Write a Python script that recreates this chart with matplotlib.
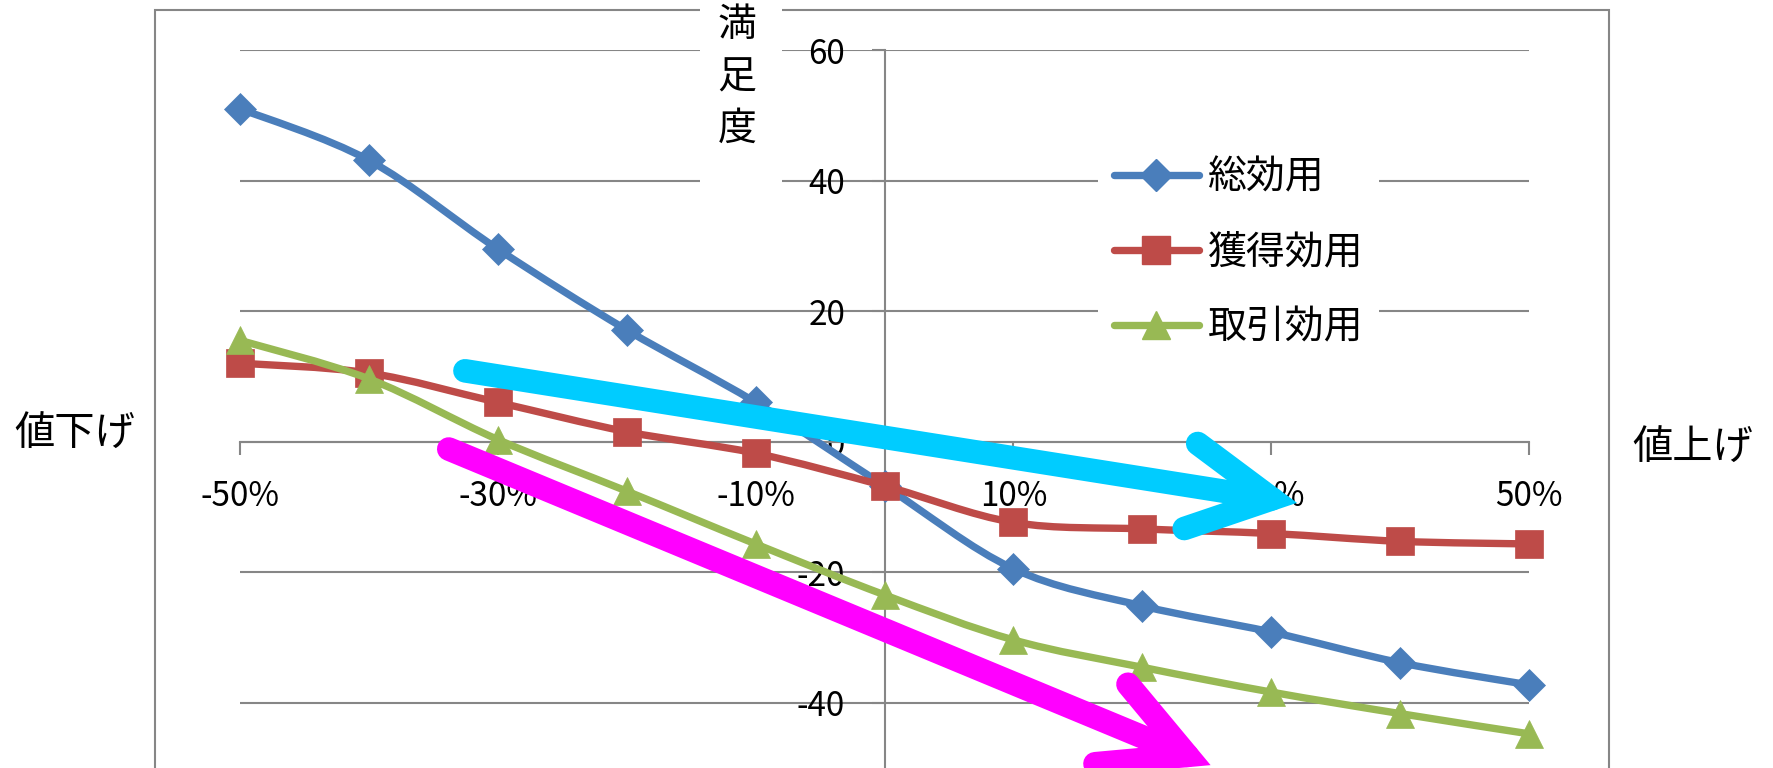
import matplotlib.pyplot as plt
from matplotlib.lines import Line2D
from matplotlib.patches import ArrowStyle, FancyArrowPatch, PathPatch, Rectangle
from matplotlib.path import Path

plt.rcParams['font.family'] = ['Noto Sans CJK JP', 'DejaVu Sans']

# 価格の変化率 (%)
price_change = [-50, -40, -30, -20, -10, 0, 10, 20, 30, 40, 50]

# 満足度
total_utility = [51.0, 43.1, 29.5, 17.1, 6.0, -6.8, -19.5, -25.2, -29.2, -33.9, -37.3]
acquisition_utility = [12.0, 10.5, 6.0, 1.5, -1.8, -6.8, -12.4, -13.4, -14.1, -15.3, -15.7]
transaction_utility = [15.5, 9.6, 0.3, -7.6, -15.7, -23.5, -30.4, -34.6, -38.4, -41.7, -44.8]

series_names = ['総効用', '獲得効用', '取引効用']
series_colors = ['#4A7EBB', '#BE4B48', '#98B954']
series_markers = ['D', 's', '^']
marker_sizes = [16.5, 20, 20]

x_ticks = [-50, -30, -10, 10, 30, 50]
x_tick_labels = ['-50%', '-30%', '-10%', '10%', '30%', '50%']
y_ticks = [-40, -20, 0, 20, 40, 60]

# 傾向を示す矢印 (始点, 終点)
trend_arrows = [
    ((-33.4, 11.1), (32.0, -9.4), '#00CCFF'),
    ((-34.6, -0.5), (25.3, -49.6), '#FF00FF'),
]

GRAY = '#868686'
W, H = 1773, 768


def fx(px):
    return px / W


def fy(py):
    return 1 - py / H


def smooth_path(xs, ys):
    # Excel風のなめらかな線 (ベジェ曲線)
    pts = list(zip(xs, ys))
    n = len(pts)
    verts = [pts[0]]
    codes = [Path.MOVETO]
    for i in range(n - 1):
        p0 = pts[max(i - 1, 0)]
        p1 = pts[i]
        p2 = pts[i + 1]
        p3 = pts[min(i + 2, n - 1)]
        c1 = (p1[0] + (p2[0] - p0[0]) / 6, p1[1] + (p2[1] - p0[1]) / 6)
        c2 = (p2[0] - (p3[0] - p1[0]) / 6, p2[1] - (p3[1] - p1[1]) / 6)
        verts += [c1, c2, p2]
        codes += [Path.CURVE4] * 3
    return Path(verts, codes)


fig = plt.figure(figsize=(W / 100, H / 100), dpi=100)
ax = fig.add_axes([fx(240), fy(833), (1529 - 240) / W, (833 - 50) / H])
ax.set_facecolor('none')

# グラフエリアの枠
fig.add_artist(Rectangle((fx(155), fy(820)), (1609 - 155) / W, (820 - 10) / H,
                         transform=fig.transFigure, fill=False, ec=GRAY, lw=1.5, zorder=-1))

ax.set_xlim(-50, 50)
ax.set_ylim(-60, 60)
for side in ['top', 'right']:
    ax.spines[side].set_visible(False)
for side in ['left', 'bottom']:
    ax.spines[side].set_position(('data', 0))
    ax.spines[side].set_color(GRAY)
    ax.spines[side].set_linewidth(1.5)

ax.set_xticks(x_ticks)
ax.set_xticklabels(x_tick_labels)
ax.set_yticks(y_ticks)
ax.set_yticklabels([str(v) for v in y_ticks])
ax.tick_params(axis='both', direction='out', length=9.4, width=1.5, color=GRAY, labelsize=24)
ax.tick_params(axis='x', pad=17.5)
ax.tick_params(axis='y', pad=19)
ax.yaxis.grid(True, color=GRAY, lw=1.5)
ax.set_axisbelow(True)

series = [total_utility, acquisition_utility, transaction_utility]
handles = []
for i, vals in enumerate(series):
    c = series_colors[i]
    ax.add_patch(PathPatch(smooth_path(price_change, vals), fc='none', ec=c, lw=5.3,
                           capstyle='round', joinstyle='round', zorder=3 + i))
    ax.plot(price_change, vals, ls='none', marker=series_markers[i], ms=marker_sizes[i],
            color=c, mec=c, mew=0.5, zorder=3 + i, clip_on=False)
    handles.append(Line2D([], [], color=c, lw=5.3, marker=series_markers[i],
                          ms=marker_sizes[i], mec=c, solid_capstyle='round'))

leg = ax.legend(handles, series_names, loc='upper left',
                bbox_to_anchor=(fx(1098), fy(142)), bbox_transform=fig.transFigure,
                fontsize=28, handlelength=2.2, handletextpad=0.23, labelspacing=0.9,
                borderpad=0.4, borderaxespad=0, fancybox=False, framealpha=1)
leg.get_frame().set_edgecolor('none')
leg.get_frame().set_facecolor('white')
leg.set_zorder(8)

for start, end, color in trend_arrows:
    ax.add_patch(FancyArrowPatch(start, end,
                                 arrowstyle=ArrowStyle('->', head_length=59, head_width=31),
                                 mutation_scale=1, lw=17, color=color,
                                 capstyle='round', joinstyle='miter',
                                 shrinkA=8, shrinkB=0, zorder=10, clip_on=False))

# 縦軸タイトル (縦書き)
fig.add_artist(Rectangle((fx(700), fy(195)), (782 - 700) / W, 200 / H,
                         transform=fig.transFigure, fc='white', ec='none', zorder=5))
for k, ch in enumerate('満足度'):
    fig.text(fx(737), fy(25 + 52 * k), ch, fontsize=28, ha='center', va='center', zorder=6)

fig.text(fx(75), fy(434), '値下げ', fontsize=29, ha='center', va='center')
fig.text(fx(1693), fy(448), '値上げ', fontsize=29, ha='center', va='center')

fig.savefig('out.png', dpi=100)
